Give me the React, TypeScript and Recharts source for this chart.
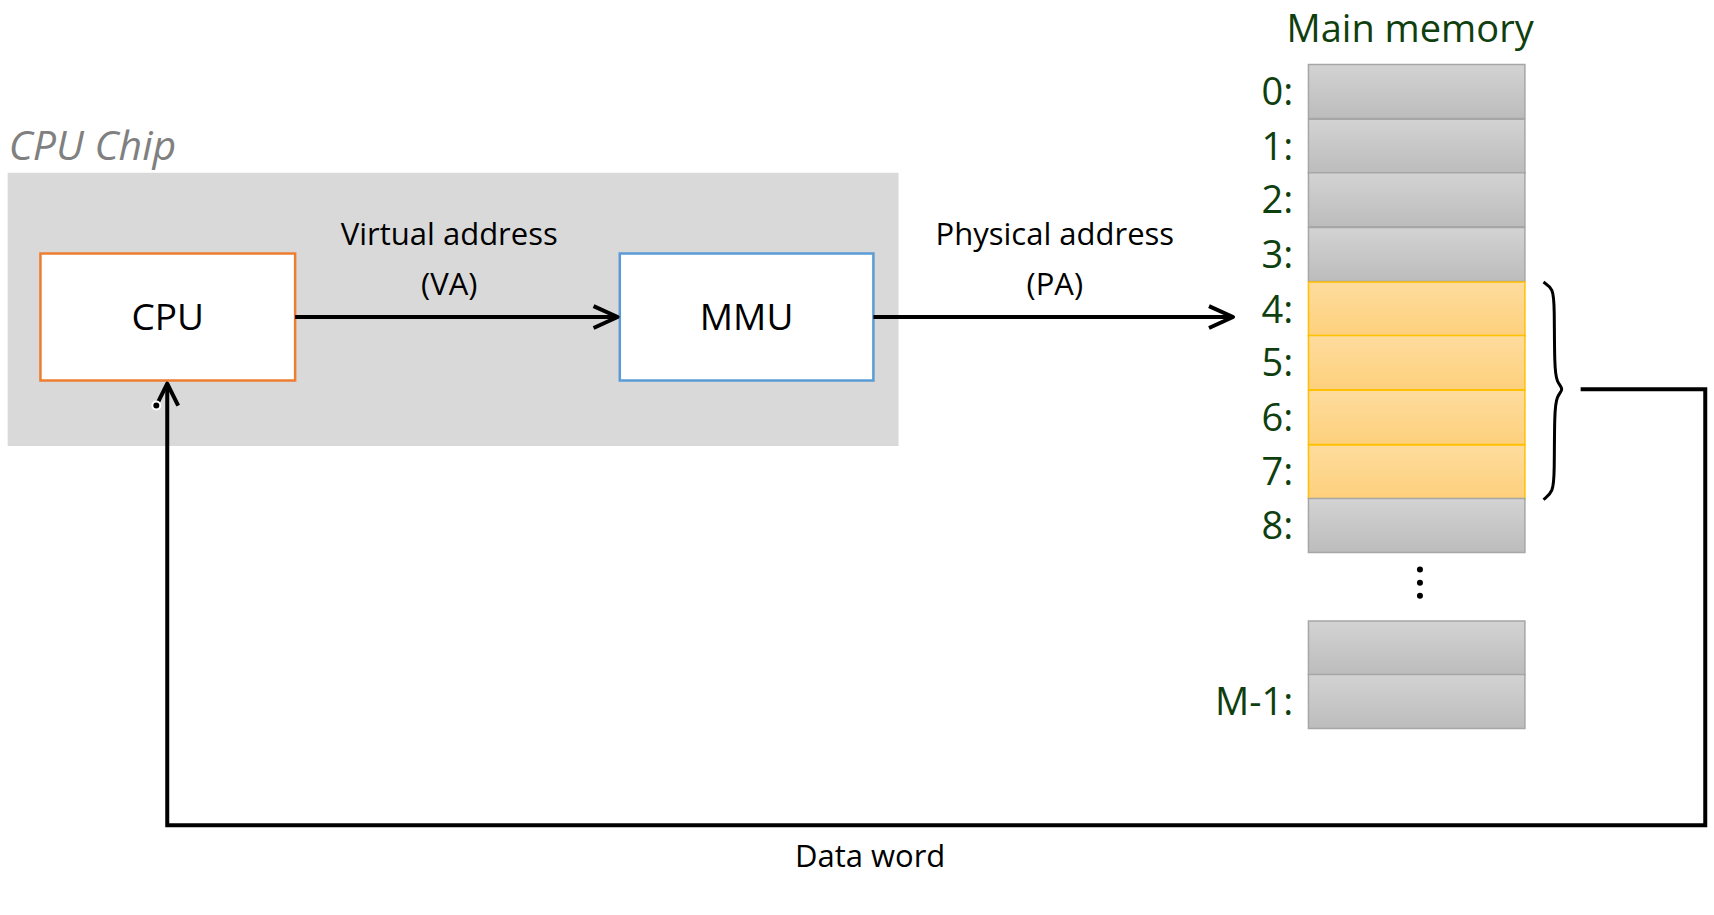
import { ComposedChart, Line, ReferenceArea, ReferenceDot, XAxis, YAxis } from "recharts";

// Diagram drawn on a pixel-like grid (0..1568 x 0..837), y grows downward.
const W = 1714;
const H = 915;

const cellLabels = ["0:", "1:", "2:", "3:", "4:", "5:", "6:", "7:", "8:"];
const cellTops = [59, 109, 158, 208, 258, 307, 357, 407, 456];
const highlighted = [false, false, false, false, true, true, true, true, false];
const tailLabels = ["", "M-1:"];
const tailTops = [568, 617];
const cellHeight = 49.5;

const vaArrow = [{ x: 270, y: 290 }, { x: 565, y: 290 }];
const vaHead = [{ x: 543, y: 280 }, { x: 565, y: 290 }, { x: 543, y: 300 }];
const paArrow = [{ x: 799, y: 290 }, { x: 1128, y: 290 }];
const paHead = [{ x: 1106, y: 280 }, { x: 1128, y: 290 }, { x: 1106, y: 300 }];
const returnPath = [
  { x: 1446, y: 356 },
  { x: 1560, y: 356 },
  { x: 1560, y: 755 },
  { x: 153, y: 755 },
  { x: 153, y: 351 },
];
const returnHead = [{ x: 143, y: 371 }, { x: 153, y: 351 }, { x: 163, y: 371 }];
const brace = [
  { x: 1412, y: 258 },
  { x: 1421, y: 264 },
  { x: 1422, y: 280 },
  { x: 1422, y: 335 },
  { x: 1424, y: 350 },
  { x: 1431, y: 356 },
  { x: 1424, y: 362 },
  { x: 1422, y: 377 },
  { x: 1422, y: 433 },
  { x: 1421, y: 450 },
  { x: 1412, y: 457 },
];

const font = "'Open Sans', sans-serif";
const green = "#0f3f0f";

const txt = (value: string, size: number, fill = "#000", extra: object = {}) => ({
  value,
  position: "center" as const,
  fontSize: size,
  fill,
  fontFamily: font,
  ...extra,
});

const stroke = { stroke: "#000", strokeWidth: 4, dot: false, isAnimationActive: false, legendType: "none" as const };

export default function App() {
  return (
    <div style={{ position: "absolute", left: 0, top: 0, width: W, height: H, background: "#fff" }}>
      <svg width="0" height="0" style={{ position: "absolute" }}>
        <defs>
          <linearGradient id="gray" x1="0" y1="0" x2="0" y2="1">
            <stop offset="0" stopColor="#d3d3d3" />
            <stop offset="1" stopColor="#bcbcbc" />
          </linearGradient>
          <linearGradient id="gold" x1="0" y1="0" x2="0" y2="1">
            <stop offset="0" stopColor="#fedc9e" />
            <stop offset="1" stopColor="#fdd07c" />
          </linearGradient>
        </defs>
      </svg>
      <ComposedChart width={W} height={H} margin={{ top: 0, right: 0, bottom: 0, left: 0 }}>
        <XAxis type="number" dataKey="x" domain={[0, 1568]} hide allowDataOverflow />
        <YAxis type="number" dataKey="y" domain={[0, 837]} reversed hide allowDataOverflow />

        <ReferenceArea x1={7} x2={822} y1={158} y2={408} fill="#d9d9d9" fillOpacity={1} stroke="none" />
        <ReferenceArea x1={37} x2={270} y1={232} y2={348} fill="#fff" fillOpacity={1} stroke="#ed7d31" strokeWidth={2.5}
          label={txt("CPU", 37)} />
        <ReferenceArea x1={567} x2={799} y1={232} y2={348} fill="#fff" fillOpacity={1} stroke="#5b9bd5" strokeWidth={2.5}
          label={txt("MMU", 37)} />

        {cellTops.map((top, i) => (
          <ReferenceArea key={"c" + i} x1={1197} x2={1395} y1={top} y2={top + cellHeight}
            fill={highlighted[i] ? "url(#gold)" : "url(#gray)"} fillOpacity={1}
            stroke={highlighted[i] ? "#ffc000" : "#a6a6a6"} strokeWidth={1.5} />
        ))}
        {tailTops.map((top, i) => (
          <ReferenceArea key={"t" + i} x1={1197} x2={1395} y1={top} y2={top + cellHeight}
            fill="url(#gray)" fillOpacity={1} stroke="#a6a6a6" strokeWidth={1.5} />
        ))}

        <Line data={vaArrow} dataKey="y" {...stroke} />
        <Line data={vaHead} dataKey="y" {...stroke} strokeLinejoin="round" />
        <Line data={paArrow} dataKey="y" {...stroke} />
        <Line data={paHead} dataKey="y" {...stroke} strokeLinejoin="round" />
        <Line data={returnPath} dataKey="y" {...stroke} />
        <Line data={returnHead} dataKey="y" {...stroke} strokeLinejoin="round" />
        <Line data={brace} dataKey="y" type="basis" {...stroke} strokeWidth={3} />

        {cellTops.map((top, i) => (
          <ReferenceDot key={"l" + i} x={1183} y={top + cellHeight / 2} r={0} ifOverflow="visible"
            label={txt(cellLabels[i], 38, green, { position: "left", offset: 0 })} />
        ))}
        {tailTops.map((top, i) => (
          <ReferenceDot key={"m" + i} x={1183} y={top + cellHeight / 2} r={0} ifOverflow="visible"
            label={txt(tailLabels[i], 38, green, { position: "left", offset: 0 })} />
        ))}

        <ReferenceDot x={1299} y={521} r={3} fill="#000" stroke="none" ifOverflow="visible" />
        <ReferenceDot x={1299} y={533} r={3} fill="#000" stroke="none" ifOverflow="visible" />
        <ReferenceDot x={1299} y={545} r={3} fill="#000" stroke="none" ifOverflow="visible" />

        <ReferenceDot x={1290} y={26} r={0} ifOverflow="visible" label={txt("Main memory", 38, green)} />
        <ReferenceDot x={8} y={133} r={0} ifOverflow="visible"
          label={txt("CPU Chip", 41, "#808080", { position: "right", offset: 0, fontStyle: "italic" })} />
        <ReferenceDot x={411} y={214} r={0} ifOverflow="visible" label={txt("Virtual address", 31)} />
        <ReferenceDot x={411} y={260} r={0} ifOverflow="visible" label={txt("(VA)", 31)} />
        <ReferenceDot x={965} y={214} r={0} ifOverflow="visible" label={txt("Physical address", 31)} />
        <ReferenceDot x={965} y={260} r={0} ifOverflow="visible" label={txt("(PA)", 31)} />
        <ReferenceDot x={796} y={783} r={0} ifOverflow="visible" label={txt("Data word", 31)} />
      </ComposedChart>
    </div>
  );
}
